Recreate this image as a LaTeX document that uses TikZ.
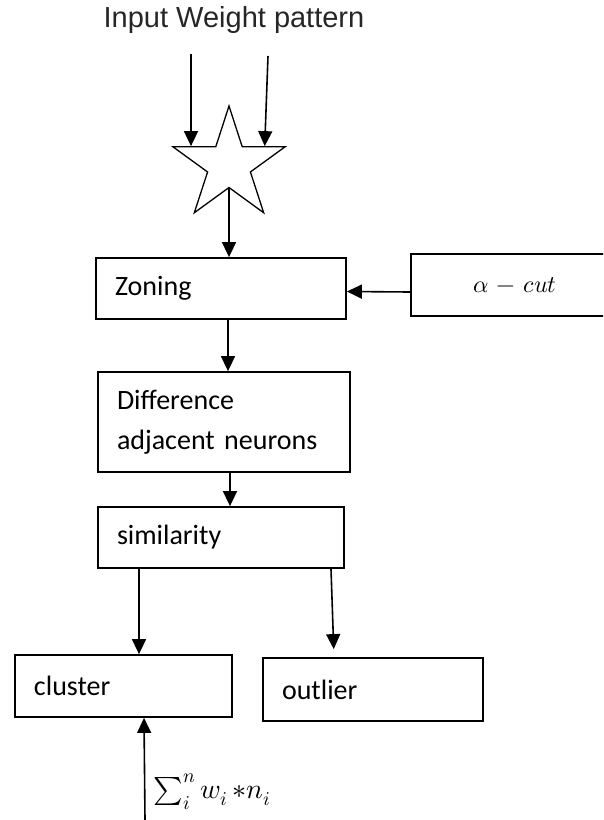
\documentclass[tikz,border=0pt]{standalone}
\usepackage{fontspec}
\usepackage{unicode-math}
\setmainfont{Carlito}
\setmathfont{Latin Modern Math}
\newfontfamily\titlefont{Liberation Sans}
\usetikzlibrary{arrows.meta,shapes.geometric}
\tikzset{
  box/.style={draw,line width=1.8pt,rectangle,align=left,inner xsep=19pt,
              minimum height=61pt,font=\fontsize{28}{40}\selectfont},
  arr/.style={line width=1.6pt,-{Triangle[length=15pt,width=14pt]}}
}
\begin{document}
\begin{tikzpicture}[x=1pt,y=-1pt]
\clip (0,0) rectangle (603,820);
\node (title) at (234,20) {\titlefont\fontsize{29}{34}\selectfont\color{black!85}Input Weight pattern};
\node (star)[draw,line width=1.3pt,star,star points=5,star point ratio=2.62,
      minimum size=118pt,inner sep=0pt] at (229,165) {};
\coordinate (in1) at (191,54);
\coordinate (in2) at (268,56);
\node (zoning)[box,text width=212pt] at (221,288.5) {Zoning};
\node (alpha)[box,align=center,text width=170pt,minimum height=62pt,
      font=\fontsize{24}{30}\selectfont] at (515,285) {$\alpha-cut$};
\node (diff)[box,text width=214pt,minimum height=100pt] at (224,422)
      {Difference\\adjacent neurons};
\node (sim)[box,text width=208pt] at (221,537.5) {similarity};
\node (cluster)[box,text width=179pt,minimum height=62pt] at (123.5,686) {cluster};
\node (outlier)[box,text width=182pt,minimum height=63pt] at (373,689.5) {outlier};
\coordinate (sumin) at (145,820);
\draw[arr] (in1) -- (in1 |- star.inner point 1);
\draw[arr] (in2) -- ([xshift=22pt]star.inner point 5);
\draw[arr] (star.inner point 3) -- (star.inner point 3 |- zoning.north);
\draw[arr] ([yshift=-7pt]alpha.west) -- ([yshift=-3pt]zoning.east);
\draw[arr] ([xshift=7pt]zoning.south) -- ([xshift=7pt]zoning.south |- diff.north);
\draw[arr] ([xshift=6pt]diff.south) -- ([xshift=6pt]diff.south |- sim.north);
\draw[arr] (sim.south -| 139,0) -- (cluster.north -| 139,0);
\draw[arr,shorten >=8pt] (sim.south -| 331,0) -- (outlier.north -| 334,0);
\draw[arr] (sumin) -- (cluster.south -| 144,0)
      node[pos=0.28,right=5pt,font=\fontsize{28}{34}\selectfont]
      (sumlabel) {$\sum_i^n w_i\,{*}n_i$};
\end{tikzpicture}
\end{document}
